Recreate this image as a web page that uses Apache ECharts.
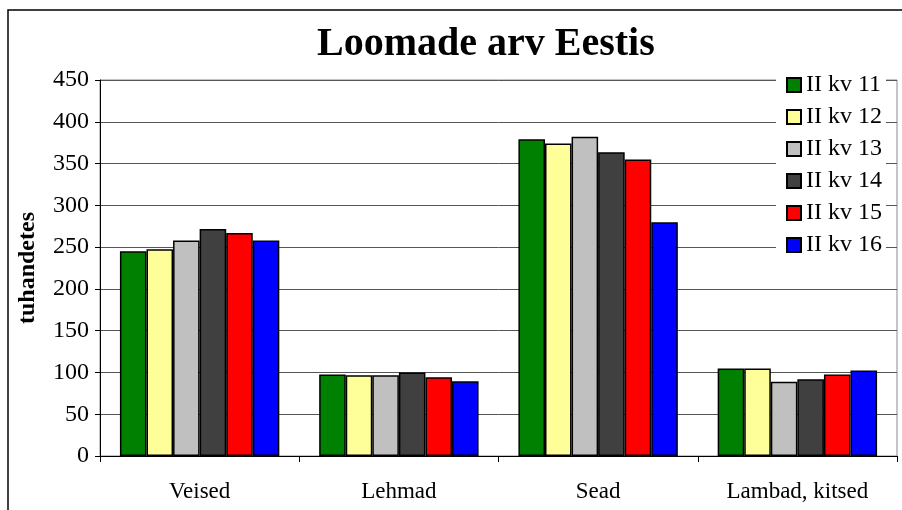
<!DOCTYPE html>
<html>
<head>
<meta charset="UTF-8">
<title>Loomade arv Eestis</title>
<script src="https://cdn.jsdelivr.net/npm/echarts@6/dist/echarts.min.js"></script>
<style>
  html, body { margin: 0; padding: 0; background: #fff; }
  #main { width: 902px; height: 510px; }
</style>
</head>
<body>
<div id="main"></div>
<script type="text/javascript">
// andmed
var categories = ['Veised', 'Lehmad', 'Sead', 'Lambad, kitsed'];
var seriesNames = ['II kv 11', 'II kv 12', 'II kv 13', 'II kv 14', 'II kv 15', 'II kv 16'];
var kv11 = [245, 97.5, 379, 104.6];
var kv12 = [247.5, 96.7, 374, 104.6];
var kv13 = [258, 96.7, 382, 89];
var kv14 = [271.7, 99.9, 363.6, 91.9];
var kv15 = [267, 94.3, 355, 97.5];
var kv16 = [258, 89.5, 279.7, 102.3];
var yTicks = [0, 50, 100, 150, 200, 250, 300, 350, 400, 450];

var colors = ['#008000', '#FFFF99', '#C0C0C0', '#404040', '#FF0000', '#0000FF'];
var allData = [kv11, kv12, kv13, kv14, kv15, kv16];
var font = 'Liberation Serif';

var myChart = echarts.init(document.getElementById('main'));

var series = [];
for (var i = 0; i < seriesNames.length; i++) {
    series.push({
        name: seriesNames[i],
        type: 'bar',
        data: allData[i],
        barGap: '0%',
        barCategoryGap: '20%',
        itemStyle: { color: colors[i], borderColor: '#000', borderWidth: 1.5 }
    });
}

var option = {
    animation: false,
    color: colors,
    title: {
        text: 'Loomade arv Eestis',
        left: 312,
        top: 20,
        textStyle: { fontFamily: font, fontSize: 40, fontWeight: 'bold', color: '#000' }
    },
    legend: {
        orient: 'vertical',
        left: 776,
        top: 69,
        padding: [4, 4, 4, 10],
        backgroundColor: '#fff',
        itemWidth: 14,
        itemHeight: 14,
        itemGap: 8,
        icon: 'rect',
        textStyle: { fontFamily: font, fontSize: 24, color: '#000' },
        data: seriesNames
    },
    graphic: [{
        type: 'rect',
        z: -10,
        shape: { x: 8, y: 10, width: 1000, height: 1000 },
        style: { fill: null, stroke: '#000', lineWidth: 1.5 }
    }],
    grid: {
        left: 100,
        right: 5,
        top: 80,
        bottom: 54,
        show: true,
        borderColor: '#888',
        borderWidth: 1,
        containLabel: false
    },
    xAxis: {
        type: 'category',
        data: categories,
        axisLine: { lineStyle: { color: '#000', width: 1 } },
        axisTick: { show: true, interval: 0, length: 6, lineStyle: { color: '#000' } },
        axisLabel: { fontFamily: font, fontSize: 23, color: '#000', margin: 24 },
        splitLine: { show: false }
    },
    yAxis: {
        type: 'value',
        min: yTicks[0],
        max: yTicks[yTicks.length - 1],
        interval: 50,
        name: 'tuhandetes',
        nameLocation: 'middle',
        nameGap: 60,
        nameTextStyle: { fontFamily: font, fontSize: 24, fontWeight: 'bold', color: '#000' },
        axisLine: { show: true, lineStyle: { color: '#000', width: 1 } },
        axisTick: { show: true, length: 5, lineStyle: { color: '#000' } },
        axisLabel: { fontFamily: font, fontSize: 24, color: '#000', margin: 11 },
        splitLine: { show: true, lineStyle: { color: '#555', width: 1 } }
    },
    series: series
};

myChart.setOption(option);
</script>
</body>
</html>
